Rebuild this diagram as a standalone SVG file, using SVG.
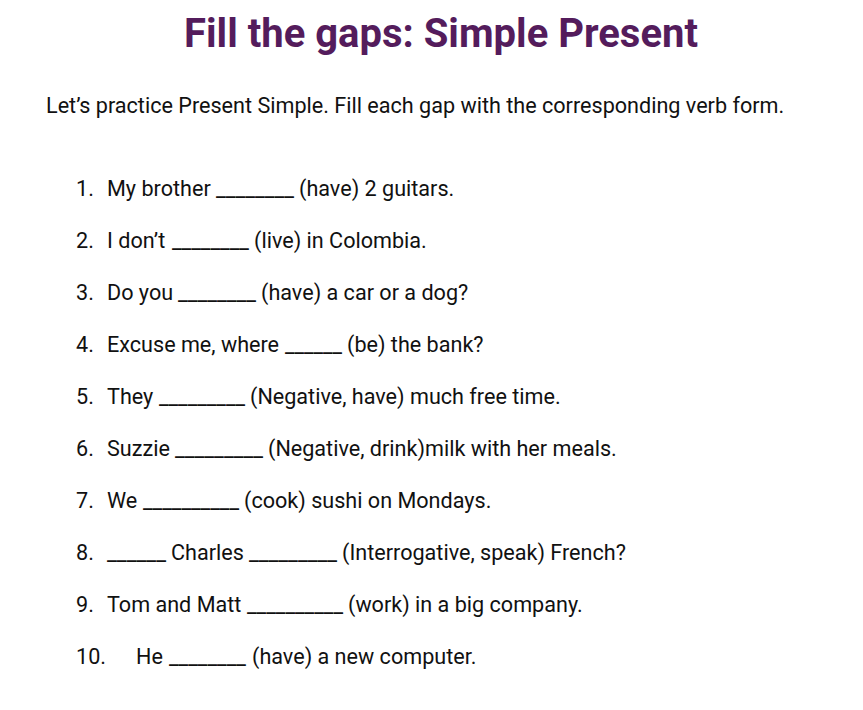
<svg xmlns="http://www.w3.org/2000/svg" width="863" height="710" viewBox="0 0 863 710">
<style>
.t{font-family:Roboto,"Liberation Sans",sans-serif;font-size:21.6px;fill:#111}
.h{font-family:Roboto,"Liberation Sans",sans-serif;font-size:40px;font-weight:bold;fill:#541c5c}
</style>
<rect width="863" height="710" fill="#fff"/>
<text class="h" x="441" y="47" text-anchor="middle">Fill the gaps: Simple Present</text>
<text class="t" x="46" y="113">Let’s practice Present Simple. Fill each gap with the corresponding verb form.</text>
<g id="item1"><text class="t" x="76" y="196">1.</text><text class="t" x="107" y="196">My brother</text><text class="t" x="216" y="196" textLength="78" lengthAdjust="spacingAndGlyphs">________</text><text class="t" x="299" y="196">(have) 2 guitars.</text></g>
<g id="item2"><text class="t" x="76" y="248">2.</text><text class="t" x="107" y="248">I don’t</text><text class="t" x="172" y="248" textLength="77" lengthAdjust="spacingAndGlyphs">________</text><text class="t" x="254" y="248">(live) in Colombia.</text></g>
<g id="item3"><text class="t" x="76" y="300">3.</text><text class="t" x="107" y="300">Do you</text><text class="t" x="178" y="300" textLength="78" lengthAdjust="spacingAndGlyphs">________</text><text class="t" x="261" y="300">(have) a car or a dog?</text></g>
<g id="item4"><text class="t" x="76" y="352">4.</text><text class="t" x="107" y="352">Excuse me, where</text><text class="t" x="285" y="352" textLength="57" lengthAdjust="spacingAndGlyphs">______</text><text class="t" x="347" y="352">(be) the bank?</text></g>
<g id="item5"><text class="t" x="76" y="404">5.</text><text class="t" x="107" y="404">They</text><text class="t" x="159" y="404" textLength="86" lengthAdjust="spacingAndGlyphs">_________</text><text class="t" x="250" y="404">(Negative, have) much free time.</text></g>
<g id="item6"><text class="t" x="76" y="456">6.</text><text class="t" x="107" y="456">Suzzie</text><text class="t" x="175" y="456" textLength="88" lengthAdjust="spacingAndGlyphs">_________</text><text class="t" x="268" y="456">(Negative, drink)milk with her meals.</text></g>
<g id="item7"><text class="t" x="76" y="508">7.</text><text class="t" x="107" y="508">We</text><text class="t" x="143" y="508" textLength="96" lengthAdjust="spacingAndGlyphs">__________</text><text class="t" x="244" y="508">(cook) sushi on Mondays.</text></g>
<g id="item8"><text class="t" x="76" y="560">8.</text><text class="t" x="107" y="560" textLength="59" lengthAdjust="spacingAndGlyphs">______</text><text class="t" x="171" y="560">Charles</text><text class="t" x="249" y="560" textLength="88" lengthAdjust="spacingAndGlyphs">_________</text><text class="t" x="342" y="560">(Interrogative, speak) French?</text></g>
<g id="item9"><text class="t" x="76" y="612">9.</text><text class="t" x="107" y="612">Tom and Matt</text><text class="t" x="247" y="612" textLength="96" lengthAdjust="spacingAndGlyphs">__________</text><text class="t" x="348" y="612">(work) in a big company.</text></g>
<g id="item10"><text class="t" x="76" y="664">10.</text><text class="t" x="136" y="664">He</text><text class="t" x="169" y="664" textLength="77" lengthAdjust="spacingAndGlyphs">________</text><text class="t" x="252" y="664">(have) a new computer.</text></g>
</svg>
